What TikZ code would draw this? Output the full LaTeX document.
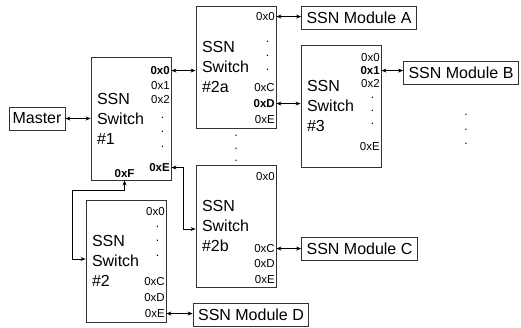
\documentclass[tikz,border=0pt]{standalone}
\usepackage{fontspec}
\setmainfont{Liberation Sans}
\usetikzlibrary{calc,positioning,arrows.meta}

\begin{document}
\begin{tikzpicture}[
    % pixel-like units, y grows downwards
    x=1pt, y=-1pt,
    % boxes
    switchbox/.style={rectangle, draw=black!80, line width=0.9pt, minimum width=80pt,
                      minimum height=122pt, text width=68pt, inner xsep=6pt, align=left,
                      font=\fontsize{16pt}{20pt}\selectfont},
    module/.style={rectangle, draw=black!80, line width=0.9pt, minimum height=23pt,
                   inner xsep=5pt, inner ysep=0pt, font=\fontsize{16pt}{19pt}\selectfont},
    % port labels
    port/.style={anchor=east, inner sep=0.5pt, font=\fontsize{11.5pt}{13pt}\selectfont},
    vdot/.style={inner sep=0pt, font=\fontsize{12pt}{13pt}\selectfont},
    % arrows
    link/.style={{Stealth[length=5pt,width=4pt]}-{Stealth[length=5pt,width=4pt]},
                 black, line width=0.7pt},
  ]

  \useasboundingbox (0,0) rectangle (521,327);

  \node (master) [module, inner xsep=3.5pt] at (37,118.5) {Master};

  \node (sw1)  [switchbox, minimum height=123pt] at (131,118.5) {SSN\\Switch\\\#1};
  \node (sw2a) [switchbox] at (236,67)  {SSN\\Switch\\\#2a};
  \node (sw3)  [switchbox] at (341,106) {SSN\\Switch\\\#3};
  \node (sw2b) [switchbox] at (236,226) {SSN\\Switch\\\#2b};
  \node (sw2)  [switchbox] at (126,261) {SSN\\Switch\\\#2};

  \node (modA) [module] at (359,17.5)   {SSN Module A};
  \node (modB) [module] at (461,72.5)   {SSN Module B};
  \node (modC) [module] at (359.5,249)  {SSN Module C};
  \node (modD) [module] at (251,314.5)  {SSN Module D};

  % port labels of switch #1
  \foreach \n/\dy/\t in {0/14/\textbf{0x0}, 1/29/0x1, 2/43/0x2, e/111/\textbf{0xE}}
    \node[port] (sw1-\n) at ($(sw1.north east)+(-1,\dy)$) {\t};
  \foreach \dy [count=\i] in {61,75,90}
    \node[vdot] (sw1-d\i) at ($(sw1.north east)+(-9,\dy)$) {.};
  \node[port, anchor=center] (sw1-f) at ($(sw1.south west)+(34,-7)$) {\textbf{0xF}};

  % port labels of switch #2a
  \foreach \n/\dy/\t in {0/11/0x0, c/82/0xC, d/98/\textbf{0xD}, e/114/0xE}
    \node[port] (sw2a-\n) at ($(sw2a.north east)+(-1,\dy)$) {\t};
  \foreach \dy [count=\i] in {36,50,64}
    \node[vdot] (sw2a-d\i) at ($(sw2a.north east)+(-9,\dy)$) {.};

  % port labels of switch #3
  \foreach \n/\dy/\t in {0/13/0x0, 1/26/\textbf{0x1}, 2/39/0x2, e/102/0xE}
    \node[port] (sw3-\n) at ($(sw3.north east)+(-1,\dy)$) {\t};
  \foreach \dy [count=\i] in {53,66,79}
    \node[vdot] (sw3-d\i) at ($(sw3.north east)+(-9,\dy)$) {.};

  % port labels of switch #2b
  \foreach \n/\dy/\t in {0/12/0x0, c/84/0xC, d/99/0xD, e/115/0xE}
    \node[port] (sw2b-\n) at ($(sw2b.north east)+(-1,\dy)$) {\t};

  % port labels of switch #2
  \foreach \n/\dy/\t in {0/12/0x0, c/82/0xC, d/98/0xD, e/114/0xE}
    \node[port] (sw2-\n) at ($(sw2.north east)+(-1,\dy)$) {\t};
  \foreach \dy [count=\i] in {27,41,56}
    \node[vdot] (sw2-d\i) at ($(sw2.north east)+(-9,\dy)$) {.};

  % more switches below #2a, more modules below B
  \foreach \dy [count=\i] in {7,20,32}
    \node[vdot] (gap-d\i) at ($(sw2a.south)+(0,\dy)$) {.};
  \foreach \dy [count=\i] in {30,45,59}
    \node[vdot] (modB-d\i) at ($(modB.south)+(5,\dy)$) {.};

  % links
  \draw[link] (master.east) -- (master.east -| sw1.west);
  \draw[link] (sw1.east |- sw1-0) -- (sw2a.west |- sw1-0);
  \draw[link] (sw2a.east |- sw2a-0) -- (modA.west |- sw2a-0);
  \draw[link] (sw2a.east |- sw2a-d) -- (sw3.west |- sw2a-d);
  \draw[link] (sw3.east |- sw3-1) -- (modB.west |- sw3-1);
  \draw[link] (sw2b.east |- sw2b-c) -- (modC.west |- sw2b-c);
  \draw[link] (sw2.east |- sw2-e) -- (modD.west |- sw2-e);

  % 0xE of #1 down to #2b
  \coordinate (bendE) at ($(sw1.east |- sw1-e)+(12,0)$);
  \coordinate (in2b)  at ($(sw2b.west)+(0,3)$);
  \draw[link] (sw1.east |- sw1-e) -- (bendE) |- (in2b);

  % 0xF of #1 round to #2
  \coordinate (loopF) at ($(sw2.west)+(-13,-2)$);
  \draw[link] (sw1.south -| sw1-f) -- ++(0,10) -| (loopF) -- (sw2.west |- loopF);

\end{tikzpicture}
\end{document}
